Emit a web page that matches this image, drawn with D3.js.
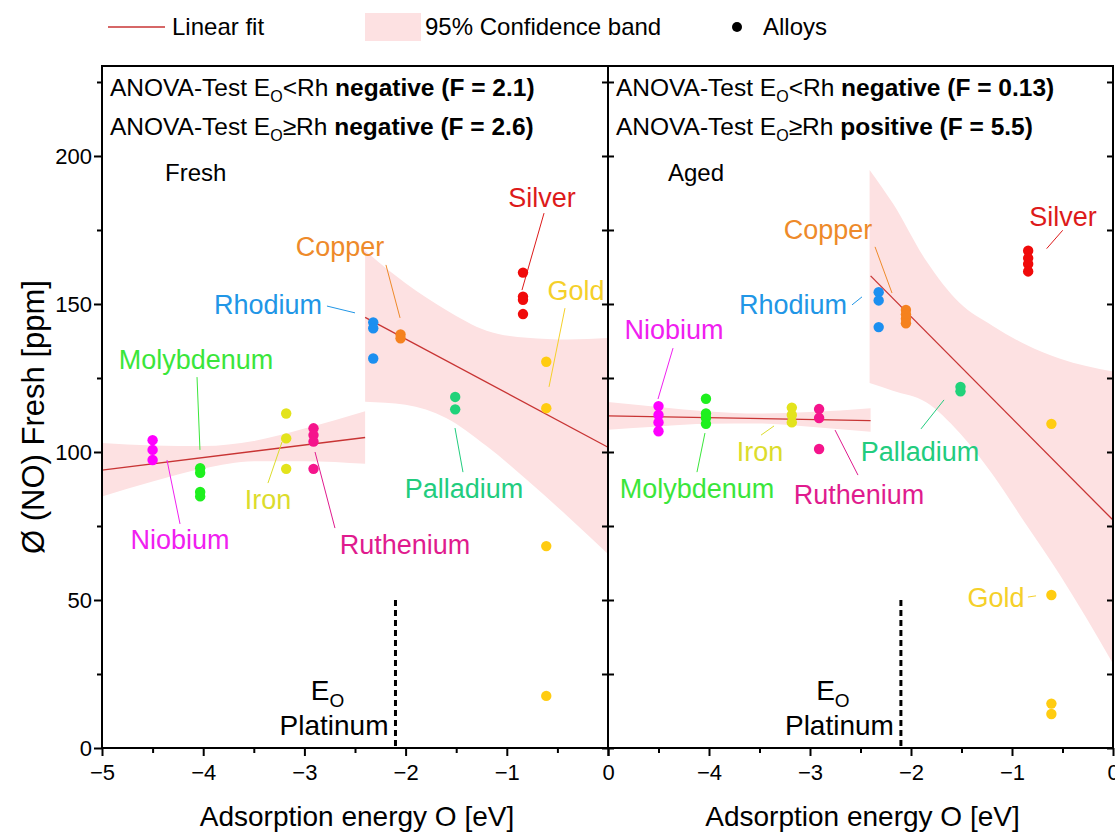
<!DOCTYPE html>
<html>
<head>
<meta charset="utf-8">
<script src="https://cdn.jsdelivr.net/npm/d3@7"></script>
<style>
  html, body { margin: 0; padding: 0; background: #fff; }
  svg { display: block; font-family: "Liberation Sans", Arial, sans-serif; }
</style>
</head>
<body>
<svg id="chart" width="1115" height="834"></svg>
<script>
// ---- data ---------------------------------------------------------------
const alloys = ["Niobium", "Molybdenum", "Iron", "Ruthenium", "Rhodium", "Copper", "Palladium", "Silver", "Gold"];
const adsorptionEnergy = [-4.5, -4.03, -3.18, -2.91, -2.32, -2.05, -1.51, -0.84, -0.61];
const dotColors   = ["#ff00ff", "#1ef01e", "#e3e31c", "#f5148c", "#1c8ff0", "#f5821f", "#20d27a", "#f00a0a", "#ffcc11"];
const labelColors = ["#f020f0", "#3ae63a", "#dcdc2c", "#e01b8e", "#2196e6", "#ee8a2a", "#22cc7e", "#dd1a1a", "#f5d02a"];

const freshNO = [
  [104.0, 100.7, 97.3],
  [94.5, 93.0, 86.5, 85.0],
  [113.0, 104.6, 94.3],
  [108.0, 105.7, 103.5, 94.3],
  [143.8, 141.8, 131.6],
  [139.7, 138.4],
  [118.6, 114.4],
  [160.6, 152.5, 151.4, 146.6],
  [130.5, 114.8, 68.2, 17.6]
];
const agedNO = [
  [115.5, 112.5, 110.0, 107.0],
  [118.0, 113.0, 111.5, 109.5],
  [115.0, 112.5, 110.0],
  [114.5, 111.5, 101.0],
  [154.0, 151.2, 142.2],
  [148.0, 146.5, 145.0, 143.5],
  [122.0, 120.5],
  [168.0, 165.5, 163.5, 161.0],
  [109.5, 51.7, 15.0, 11.5]
];

// linear fits: below / above the rhodium threshold
const fitX = [[-5, -2.4], [-2.4, 0]];
const freshFitY = [[93.9, 104.9], [145.5, 101.6]];
const agedFitY  = [[112.2, 110.6], [159.5, 77.0]];

// 95 % confidence bands
const freshBand1X  = [-5, -4.5, -4, -3.5, -3, -2.4];
const freshBand1Lo = [85.0, 90.0, 94.4, 96.9, 96.9, 96.0];
const freshBand1Hi = [103.0, 102.2, 102.0, 103.7, 107.9, 113.8];
const freshBand2X  = [-2.4, -2.0, -1.6, -1.2, -0.8, -0.4, 0];
const freshBand2Lo = [117.0, 116.0, 111.5, 102.0, 90.5, 78.3, 65.5];
const freshBand2Hi = [168.0, 157.0, 148.0, 141.0, 138.6, 138.0, 138.5];

const agedBand1X  = [-5, -4.5, -4, -3.5, -3, -2.4];
const agedBand1Lo = [107.5, 108.6, 109.5, 109.6, 108.5, 106.8];
const agedBand1Hi = [116.9, 115.2, 113.7, 113.0, 113.5, 114.8];
const agedBand2X  = [-2.41, -2.18, -1.85, -1.52, -1.19, -0.86, -0.53, 0];
const agedBand2Lo = [123.3, 120.7, 116.8, 106.5, 92.3, 75.5, 58.7, 28.5];
const agedBand2Hi = [195.3, 184.0, 164.6, 150.4, 142.6, 136.2, 131.6, 127.2];

const platinumEO = -2.1;
const xTicks = [-5, -4, -3, -2, -1, 0];
const xMinorTicks = [-4.5, -3.5, -2.5, -1.5, -0.5];
const yTicks = [0, 50, 100, 150, 200];
const yMinorTicks = [25, 75, 125, 175, 225];

// label placement (data units): text centre, leader start, leader end
const freshLabels = [
  { t: [-4.229, 70.3],  a: [-4.358, 97.3],  b: [-4.229, 75.7] },
  { t: [-4.071, 131.1], a: [-4.061, 125.3], b: [-4.032, 100.7] },
  { t: [-3.360, 83.8],  a: [-3.221, 103.4], b: [-3.360, 89.5] },
  { t: [-2.006, 68.6],  a: [-2.895, 100.0], b: [-2.698, 74.3] },
  { t: [-3.360, 149.7], a: [-2.777, 149.3], b: [-2.500, 147.0] },
  { t: [-2.648, 169.3], a: [-2.194, 163.2], b: [-2.055, 145.3] },
  { t: [-1.423, 87.5],  a: [-1.512, 108.1], b: [-1.433, 93.2] },
  { t: [-0.652, 186.1], a: [-0.632, 180.7], b: [-0.850, 154.7] },
  { t: [-0.316, 154.7], a: [-0.425, 148.6], b: [-0.583, 122.0] }
];
const agedLabels = [
  { t: [-4.347, 141.2], a: [-4.356, 135.1], b: [-4.505, 117.9] },
  { t: [-4.119, 87.8],  a: [-4.040, 106.4], b: [-4.119, 93.2] },
  { t: [-3.495, 100.3], a: [-3.356, 108.8], b: [-3.485, 105.7] },
  { t: [-2.515, 85.5],  a: [-2.752, 107.4], b: [-2.525, 92.2] },
  { t: [-3.168, 149.7], a: [-2.584, 149.7], b: [-2.485, 152.4] },
  { t: [-2.822, 175.0], a: [-2.356, 169.3], b: [-2.188, 153.7] },
  { t: [-1.911, 100.3], a: [-1.901, 107.8], b: [-1.673, 117.6] },
  { t: [-0.495, 179.7], a: [-0.657, 168.7], b: [-0.498, 174.9] },
  { t: [-1.158, 50.7],  a: [-0.842, 51.0],  b: [-0.762, 51.4] }
];

// ---- layout -------------------------------------------------------------
const svg = d3.select("#chart");
const plotTop = 66, plotBottom = 748;
const y = d3.scaleLinear().domain([0, 230.4]).range([plotBottom, plotTop]);
const panels = [
  { x0: 102, x1: 608, values: freshNO, fit: freshFitY, labels: freshLabels, name: "Fresh",
    bands: [[freshBand1X, freshBand1Lo, freshBand1Hi], [freshBand2X, freshBand2Lo, freshBand2Hi]],
    anova: [["<", "negative (F = 2.1)"], ["\u2265", "negative (F = 2.6)"]], xLabels: xTicks },
  { x0: 608, x1: 1113, values: agedNO, fit: agedFitY, labels: agedLabels, name: "Aged",
    bands: [[agedBand1X, agedBand1Lo, agedBand1Hi], [agedBand2X, agedBand2Lo, agedBand2Hi]],
    anova: [["<", "negative (F = 0.13)"], ["\u2265", "positive (F = 5.5)"]], xLabels: xTicks.slice(1) }
];
const fmt = d => (d < 0 ? "\u2212" + Math.abs(d) : String(d));
const bandColor = "#fde1e2";
const fitColor = "#c83434";

panels.forEach((p, pi) => {
  const x = d3.scaleLinear().domain([-5, 0]).range([p.x0, p.x1]);
  const g = svg.append("g");

  // confidence bands
  p.bands.forEach(([bx, lo, hi]) => {
    const pts = bx.map((v, i) => ({ x: v, lo: lo[i], hi: hi[i] }));
    g.append("path")
      .attr("d", d3.area().curve(d3.curveMonotoneX)
        .x(d => x(d.x)).y0(d => y(d.lo)).y1(d => y(d.hi))(pts))
      .attr("fill", bandColor);
  });

  // fit lines
  fitX.forEach((fx, i) => {
    g.append("path")
      .attr("d", d3.line().x(d => x(d[0])).y(d => y(d[1]))(fx.map((v, j) => [v, p.fit[i][j]])))
      .attr("fill", "none").attr("stroke", fitColor).attr("stroke-width", 1.3);
  });

  // platinum reference
  g.append("line")
    .attr("x1", x(platinumEO)).attr("x2", x(platinumEO))
    .attr("y1", y(50)).attr("y2", y(0))
    .attr("stroke", "#000").attr("stroke-width", 3).attr("stroke-dasharray", "6,4");
  const eo = g.append("text").attr("x", x(platinumEO) - 68).attr("y", y(16.2))
    .attr("text-anchor", "middle").attr("font-size", 28).attr("fill", "#000");
  eo.append("tspan").text("E");
  eo.append("tspan").attr("font-size", 19).attr("dy", 7).text("O");
  g.append("text").attr("x", x(platinumEO) - 7).attr("y", y(4.4))
    .attr("text-anchor", "end").attr("font-size", 28).attr("fill", "#000").text("Platinum");

  // leader lines and labels
  p.labels.forEach((l, i) => {
    g.append("line")
      .attr("x1", x(l.a[0])).attr("y1", y(l.a[1]))
      .attr("x2", x(l.b[0])).attr("y2", y(l.b[1]))
      .attr("stroke", labelColors[i]).attr("stroke-width", 1);
    g.append("text")
      .attr("x", x(l.t[0])).attr("y", y(l.t[1]))
      .attr("dy", "0.35em").attr("text-anchor", "middle")
      .attr("font-size", 27).attr("fill", labelColors[i]).text(alloys[i]);
  });

  // alloy points
  p.values.forEach((vals, i) => {
    g.selectAll(null).data(vals).enter().append("circle")
      .attr("cx", x(adsorptionEnergy[i])).attr("cy", d => y(d))
      .attr("r", 5.2).attr("fill", dotColors[i]);
  });

  // ANOVA annotations
  p.anova.forEach((a, i) => {
    const t = g.append("text").attr("x", p.x0 + 8).attr("y", 96 + i * 39)
      .attr("font-size", 24.5).attr("fill", "#000");
    t.append("tspan").text("ANOVA-Test E");
    t.append("tspan").attr("font-size", 16).attr("dy", 6).text("O");
    t.append("tspan").attr("dy", -6).text(a[0] + "Rh ");
    t.append("tspan").attr("font-weight", "bold").text(a[1]);
  });
  g.append("text").attr("x", p.x0 + (pi === 0 ? 63 : 60)).attr("y", 181)
    .attr("font-size", 24).attr("fill", "#000").text(p.name);

  // axes
  g.append("g").attr("transform", `translate(0,${plotBottom})`)
    .call(d3.axisBottom(x).tickValues(p.xLabels).tickSize(8).tickPadding(8).tickFormat(fmt));
  g.append("g").attr("transform", `translate(0,${plotBottom})`)
    .call(d3.axisBottom(x).tickValues(xMinorTicks).tickSize(5).tickFormat(""));
  if (pi === 1) {
    g.append("g").attr("transform", `translate(0,${plotBottom})`)
      .call(d3.axisBottom(x).tickValues([-5]).tickSize(8).tickFormat(""));
  }
  if (pi === 0) {
    g.append("g").attr("transform", `translate(${p.x0},0)`)
      .call(d3.axisLeft(y).tickValues(yTicks).tickSize(8).tickPadding(2));
    g.append("g").attr("transform", `translate(${p.x0},0)`)
      .call(d3.axisLeft(y).tickValues(yMinorTicks).tickSize(5).tickFormat(""));
    g.append("g").attr("transform", `translate(${p.x1},0)`)
      .call(d3.axisLeft(y).tickValues(yTicks.concat(yMinorTicks)).tickSize(6).tickFormat(""));
  } else {
    g.append("g").attr("transform", `translate(${p.x0},0)`)
      .call(d3.axisRight(y).tickValues(yTicks.concat(yMinorTicks)).tickSize(6).tickFormat(""));
    g.append("g").attr("transform", `translate(${p.x1},0)`)
      .call(d3.axisLeft(y).tickValues(yTicks.concat(yMinorTicks)).tickSize(6).tickFormat(""));
  }
  g.selectAll(".domain").remove();
  g.selectAll(".tick line").attr("stroke", "#000").attr("stroke-width", 2);
  g.selectAll(".tick text").attr("font-size", 22).attr("fill", "#000")
    .attr("font-family", "Liberation Sans, Arial, sans-serif");

  // frame
  g.append("rect").attr("x", p.x0).attr("y", plotTop)
    .attr("width", p.x1 - p.x0).attr("height", plotBottom - plotTop)
    .attr("fill", "none").attr("stroke", "#000").attr("stroke-width", 2);

  // x title
  g.append("text").attr("x", (p.x0 + p.x1) / 2 + 2).attr("y", 826)
    .attr("text-anchor", "middle").attr("font-size", 28).attr("fill", "#000")
    .text("Adsorption energy O [eV]");
});

// y title
svg.append("text")
  .attr("transform", `translate(44,417) rotate(-90)`)
  .attr("text-anchor", "middle").attr("font-size", 31).attr("fill", "#000")
  .text("\u00d8 (NO) Fresh [ppm]");

// legend
const lg = svg.append("g").attr("font-size", 24).attr("fill", "#000");
lg.append("line").attr("x1", 108).attr("x2", 165).attr("y1", 27).attr("y2", 27)
  .attr("stroke", fitColor).attr("stroke-width", 1.5);
lg.append("text").attr("x", 172).attr("y", 35).text("Linear fit");
lg.append("rect").attr("x", 365).attr("y", 13).attr("width", 56).attr("height", 28).attr("fill", bandColor);
lg.append("text").attr("x", 425).attr("y", 35).text("95% Confidence band");
lg.append("circle").attr("cx", 737).attr("cy", 27).attr("r", 5).attr("fill", "#000");
lg.append("text").attr("x", 763).attr("y", 35).text("Alloys");
</script>
</body>
</html>
